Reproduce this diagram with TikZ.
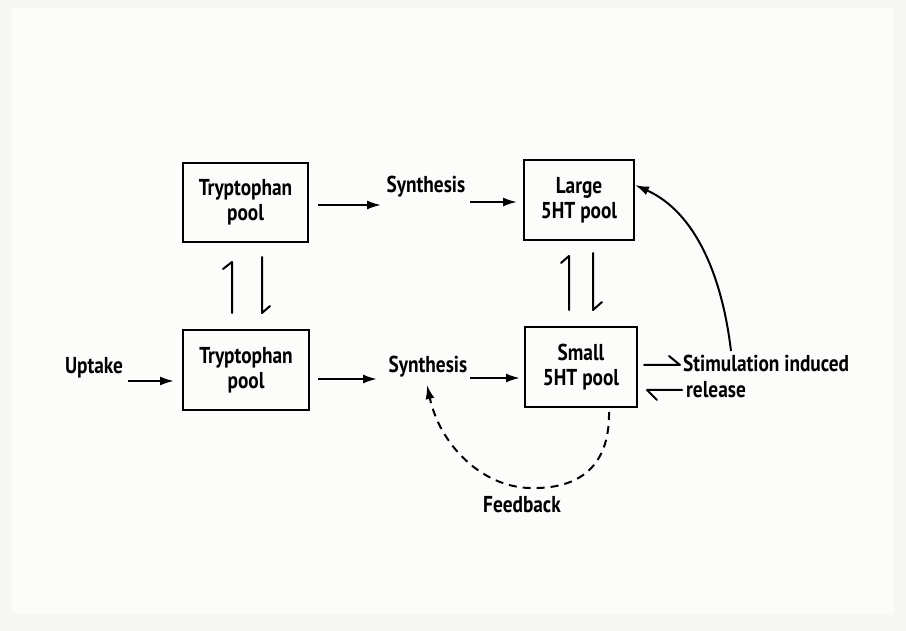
\documentclass[tikz,border=0pt]{standalone}
\usepackage{fontspec}
\setmainfont{PT Sans}[FakeStretch=0.84]
\usetikzlibrary{arrows.meta}
\definecolor{paper}{RGB}{247,247,245}
\definecolor{sheet}{RGB}{252,252,251}
\tikzset{
  pool/.style={draw, line width=2pt, align=center, font=\fontsize{23}{25}\selectfont\bfseries, inner sep=0pt},
  lbl/.style={font=\fontsize{23}{25}\selectfont\bfseries, inner sep=0pt},
  arr/.style={line width=2pt, -{Latex[length=14pt,width=9pt]}},
  harp/.style={line width=2pt, line cap=round, line join=round},
  fb/.style={line width=2pt, dash pattern=on 8pt off 6pt, -{Latex[length=14pt,width=9pt]}}
}
\begin{document}
\begin{tikzpicture}[x=1pt,y=-1pt]
\fill[paper] (0,0) rectangle (906,631);
\fill[sheet] (12,8) rectangle (893,614);
\useasboundingbox (0,0) rectangle (906,631);

\node[pool, minimum width=125pt, minimum height=79pt] (tl) at (245.5,202.5) {Tryptophan\\pool};
\node[pool, minimum width=110pt, minimum height=80pt] (tr) at (579,200) {Large\\5HT pool};
\node[pool, minimum width=126pt, minimum height=80pt] (bl) at (246,370) {Tryptophan\\pool};
\node[pool, minimum width=112pt, minimum height=80pt] (br) at (581,367) {Small\\5HT pool};

\node[lbl] (syn1) at (426,187) {Synthesis};
\node[lbl] (syn2) at (428,367) {Synthesis};
\node[lbl] (up) at (94,368) {Uptake};
\node[lbl, anchor=base west] (stim) at (683,371) {Stimulation induced};
\node[lbl, anchor=base west] (rel) at (686,397) {release};
\node[lbl] (feed) at (522,505) {Feedback};

\coordinate (a1s) at (318,205); \coordinate (a1e) at (381,205);
\draw[arr] (a1s) -- (a1e);
\coordinate (a2s) at (470,202); \coordinate (a2e) at (517,202);
\draw[arr] (a2s) -- (a2e);
\coordinate (a3s) at (128,381); \coordinate (a3e) at (174,381);
\draw[arr] (a3s) -- (a3e);
\coordinate (a4s) at (318,379); \coordinate (a4e) at (377,379);
\draw[arr] (a4s) -- (a4e);
\coordinate (a5s) at (470,378); \coordinate (a5e) at (520,378);
\draw[arr] (a5s) -- (a5e);

% harpoons between tryptophan pools
\draw[harp] (232,313) -- (232,262) -- (223,269);
\draw[harp] (262,257) -- (262,313) -- (270,306);
% harpoons between 5HT pools
\draw[harp] (569,310) -- (569,256) -- (561,263);
\draw[harp] (593,253) -- (593,310) -- (602,302);

% stimulation harpoons
\draw[harp] (644,365) -- (680,365) -- (669,356);
\draw[harp] (682,390) -- (647,390) -- (657,400);

% release curve to large pool
\coordinate (c1) at (731,351);
\draw[arr] (c1) .. controls (722,275) and (695,212) .. (tr.east |- 0,185) ;

% feedback
\coordinate (f1) at (609,412);
\coordinate (f2) at (530,488);
\coordinate (f3) at (427,385);
\draw[fb] (f1) .. controls (610,478) and (565,489) .. (f2) .. controls (482,487) and (440,445) .. (f3);
\end{tikzpicture}
\end{document}
